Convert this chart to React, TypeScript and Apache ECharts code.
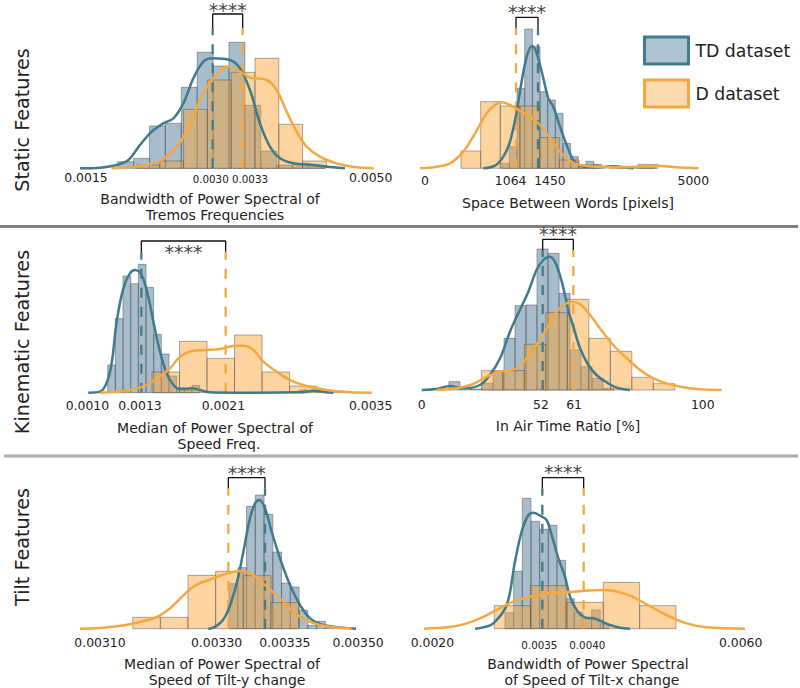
import React, { useEffect, useRef } from 'react';
import * as echarts from 'echarts';

const TD_LINE = '#3f7a8d';
const D_LINE = '#f5a83f';
const TD_FILL = 'rgba(62,109,140,0.45)';
const D_FILL = 'rgba(251,160,44,0.45)';
const BAR_EDGE = 'rgba(70,70,70,0.45)';
const FONT = '"DejaVu Sans", sans-serif';

// --- Bandwidth of Power Spectral of Tremos Frequencies
const p1TdHeights = [20, 30, 127, 135, 243, 348, 307, 378, 189, 52, 10, 15, 5];
const p1DHeights = [10, 22, 177, 265, 288, 330, 132, 22];
const p1TdKdeX = [0.001673, 0.001873, 0.00204, 0.002157, 0.002273, 0.00239, 0.002507, 0.002607, 0.002707, 0.002807, 0.002907, 0.003, 0.003173, 0.003273, 0.003373, 0.003473, 0.003573, 0.003673, 0.003807, 0.004007, 0.004207, 0.004323];
const p1TdKdeY = [0, 2, 10, 25, 70, 110, 135, 150, 195, 270, 320, 330, 325, 300, 235, 135, 65, 30, 15, 10, 3, 0];
const p1DKdeX = [0.00199, 0.002273, 0.002473, 0.00264, 0.002773, 0.002873, 0.003007, 0.003157, 0.003273, 0.003373, 0.00354, 0.00364, 0.00374, 0.00384, 0.00394, 0.004073, 0.00424, 0.0044, 0.00461];
const p1DKdeY = [0, 8, 22, 65, 130, 205, 270, 305, 290, 272, 265, 235, 170, 110, 65, 35, 15, 5, 0];

// --- Space Between Words [pixels]
const p2TdHeights = [15, 65, 240, 418, 365, 230, 205, 165, 75, 35, 10, 21, 12, 0, 8, 4, 0, 0, 8, 8];
const p2DHeights = [52, 200, 187, 187, 92, 25, 10, 0, 3, 12];
const p2TdKdeX = [491, 696, 842, 959, 1076, 1193, 1280, 1351, 1427, 1544, 1631, 1719, 1836, 1953, 2070, 2187, 2304, 2538, 2772, 3005, 3122];
const p2TdKdeY = [0, 8, 35, 80, 170, 290, 350, 367, 345, 270, 210, 185, 125, 70, 25, 8, 4, 3, 6, 2, 0];
const p2DKdeX = [-620, -328, -94, 140, 345, 549, 696, 813, 959, 1134, 1310, 1485, 1660, 1836, 2011, 2187, 2479, 2772, 3122, 3532, 3883, 4263];
const p2DKdeY = [0, 5, 15, 50, 105, 165, 190, 198, 190, 172, 155, 130, 90, 50, 22, 10, 5, 3, 4, 8, 3, 0];

// --- Median of Power Spectral of Speed Freq.
const p3TdHeights = [83, 222, 350, 327, 385, 316, 175, 116, 50, 15, 8, 22, 0, 0, 0, 0, 0, 0, 0, 0, 0, 0, 0, 0, 0, 8];
const p3DHeights = [62, 154, 103, 173, 62, 20, 5];
const p3TdKdeX = [0.000797, 0.000908, 0.001003, 0.001066, 0.001129, 0.001192, 0.00124, 0.001303, 0.001366, 0.001414, 0.001477, 0.00154, 0.001604, 0.001667, 0.001777, 0.001857, 0.001951, 0.002173, 0.002805, 0.002932, 0.003058, 0.003121];
const p3TdKdeY = [0, 3, 63, 213, 313, 358, 368, 353, 288, 213, 123, 58, 23, 11, 13, 8, 1, 0, 1, 6, 1, 0];
const p3DKdeX = [0.000908, 0.001129, 0.001287, 0.001414, 0.001572, 0.001667, 0.001793, 0.00192, 0.002046, 0.002173, 0.002268, 0.002362, 0.002457, 0.002584, 0.00271, 0.002868, 0.003058, 0.003279, 0.003485];
const p3DKdeY = [0, 5, 15, 35, 73, 108, 126, 128, 131, 140, 141, 128, 93, 63, 38, 20, 8, 1, 0];

// --- In Air Time Ratio [%]
const p4TdHeights = [25, 8, 3, 20, 55, 155, 253, 255, 423, 410, 290, 120, 70, 35, 5];
const p4DHeights = [58, 58, 137, 232, 272, 155, 116, 38, 19];
const p4TdKdeX = [16.5, 20.9, 24.8, 28.7, 33.6, 36.5, 39.5, 42.4, 45.3, 47.8, 50.2, 52.2, 54, 55.6, 57.6, 59.5, 61, 63, 65.4, 67.8, 70.8, 73.7, 77.6];
const p4TdKdeY = [0, 3, 12, 5, 15, 45, 95, 175, 240, 295, 360, 390, 400, 385, 325, 240, 190, 125, 75, 45, 23, 7, 0];
const p4DKdeX = [20.9, 26.8, 31.6, 35.6, 39.5, 44.4, 47.3, 50.2, 53.2, 56.1, 58.6, 60.5, 63, 65.9, 68.8, 72.7, 76.7, 80.6, 84.5, 88.4, 93.3, 98.2, 104.5];
const p4DKdeY = [0, 5, 18, 40, 55, 65, 95, 135, 185, 235, 258, 265, 257, 225, 185, 135, 95, 60, 35, 20, 8, 2, 0];

// --- Median of Power Spectral of Speed of Tilt-y change
const p5TdHeights = [135, 183, 367, 401, 343, 230, 137, 125, 55, 10, 22, 5];
const p5DHeights = [34, 34, 160, 172, 159, 78];
const p5TdKdeX = [0.0032727, 0.0032795, 0.0032909, 0.0033, 0.0033114, 0.0033205, 0.0033295, 0.0033364, 0.0033423, 0.00335, 0.0033591, 0.0033705, 0.0033841, 0.0033977, 0.0034114, 0.003425, 0.0034432, 0.0034591, 0.0034741];
const p5TdKdeY = [0, 3, 21, 56, 136, 231, 331, 376, 386, 361, 291, 211, 131, 71, 31, 14, 6, 2, 0];
const p5DKdeX = [0.0030977, 0.003125, 0.0031477, 0.003175, 0.0032023, 0.0032205, 0.0032523, 0.0032795, 0.0032977, 0.0033159, 0.0033341, 0.0033523, 0.003375, 0.0033977, 0.0034205, 0.0034432, 0.0034682];
const p5DKdeY = [0, 2, 7, 18, 35, 61, 126, 151, 165, 173, 161, 126, 81, 36, 14, 4, 0];

// --- Bandwidth of Power Spectral of Speed of Tilt-x change
const p6TdHeights = [48, 172, 391, 322, 298, 310, 205, 90, 50, 30, 56, 15];
const p6DHeights = [69, 129, 79, 139, 69];
const p6TdKdeX = [0.002686, 0.002786, 0.002907, 0.003069, 0.003169, 0.00325, 0.003331, 0.003391, 0.003472, 0.003552, 0.003613, 0.003694, 0.003774, 0.003835, 0.003915, 0.004016, 0.004117, 0.004198, 0.004318, 0.004439, 0.00456];
const p6TdKdeY = [0, 4, 16, 71, 201, 291, 341, 348, 339, 326, 281, 211, 156, 96, 56, 34, 31, 24, 11, 3, 0];
const p6DKdeX = [0.002069, 0.002343, 0.002544, 0.002746, 0.002907, 0.003149, 0.003391, 0.003593, 0.003875, 0.004238, 0.00452, 0.004762, 0.005004, 0.005246, 0.005488, 0.005951];
const p6DKdeY = [0, 4, 13, 31, 51, 81, 98, 106, 111, 116, 103, 73, 41, 16, 4, 0];

// tick labels sit where the original figure put them, not on a regular scale
const p1TickAt = [0.001733, 0.00298, 0.003373, 0.004580];
const p1TickText = ['0.0015', '0.0030', '0.0033', '0.0050'];
const p2TickAt = [-532, 970, 1660, 4175];
const p2TickText = ['0', '1064', '1450', '5000'];
const p3TickAt = [0.000788, 0.001287, 0.002078, 0.003475];
const p3TickText = ['0.0010', '0.0013', '0.0021', '0.0035'];
const p4TickAt = [16.5, 51.5, 61.2, 99];
const p4TickText = ['0', '52', '61', '100'];
const p5TickAt = [0.003125, 0.003284, 0.003377, 0.003477];
const p5TickText = ['0.00310', '0.00330', '0.00335', '0.00350'];
const p6TickAt = [0.00217, 0.003464, 0.004044, 0.005899];
const p6TickText = ['0.0020', '0.0035', '0.0040', '0.0060'];

const panels = [
  {
    left: 52.67, top: 0, width: 350, height: 168.33, min: 0.0014, max: 0.0049, yMax: 505, tickGap: 3,
    tickAt: p1TickAt, tickText: p1TickText, smallTicks: [1, 2], liftTicks: [] as number[],
    td: { start: 0.00205, width: 0.000159, heights: p1TdHeights, kdeX: p1TdKdeX, kdeY: p1TdKdeY, median: 0.003 },
    d: { start: 0.002233, width: 0.000238, heights: p1DHeights, kdeX: p1DKdeX, kdeY: p1DKdeY, median: 0.0033 },
    dashTop: 420, bracketTop: 463, stars: 476,
  },
  {
    left: 398.35, top: 0, width: 342, height: 168.33, min: -1000, max: 5000, yMax: 505, tickGap: 6,
    tickAt: p2TickAt, tickText: p2TickText, smallTicks: [], liftTicks: [],
    td: { start: 813, width: 134.5, heights: p2TdHeights, kdeX: p2TdKdeX, kdeY: p2TdKdeY, median: 1450 },
    d: { start: 99, width: 345, heights: p2DHeights, kdeX: p2DKdeX, kdeY: p2DKdeY, median: 1064 },
    dashTop: 420, bracketTop: 453, stars: 469,
  },
  {
    left: 78.08, top: 225, width: 326.79, height: 167.67, min: 0.0007, max: 0.0038, yMax: 503, tickGap: 7,
    tickAt: p3TickAt, tickText: p3TickText, smallTicks: [], liftTicks: [],
    td: { start: 0.000981, width: 0.0000727, heights: p3TdHeights, kdeX: p3TdKdeX, kdeY: p3TdKdeY, median: 0.0013 },
    d: { start: 0.001401, width: 0.000261, heights: p3DHeights, kdeX: p3DKdeX, kdeY: p3DKdeY, median: 0.0021 },
    dashTop: 423, bracketTop: 455, stars: 422,
  },
  {
    left: 399.57, top: 225, width: 340.73, height: 165, min: 10, max: 110, yMax: 495, tickGap: 8,
    tickAt: p4TickAt, tickText: p4TickText, smallTicks: [], liftTicks: [1, 2],
    td: { start: 24.5, width: 3.23, heights: p4TdHeights, kdeX: p4TdKdeX, kdeY: p4TdKdeY, median: 52 },
    d: { start: 34, width: 6.31, heights: p4DHeights, kdeX: p4DKdeX, kdeY: p4DKdeY, median: 61 },
    dashTop: 420, bracketTop: 452, stars: 467,
  },
  {
    left: 8.33, top: 455, width: 366.67, height: 173.67, min: 0.003, max: 0.0035, yMax: 521, tickGap: 8,
    tickAt: p5TickAt, tickText: p5TickText, smallTicks: [], liftTicks: [],
    td: { start: 0.0033009, width: 0.00001195, heights: p5TdHeights, kdeX: p5TdKdeX, kdeY: p5TdKdeY, median: 0.00335 },
    d: { start: 0.0031696, width: 0.0000377, heights: p5DHeights, kdeX: p5DKdeX, kdeY: p5DKdeY, median: 0.0033 },
    dashTop: 421, bracketTop: 453, stars: 468,
  },
  {
    left: 418.33, top: 455, width: 330.67, height: 173.67, min: 0.002, max: 0.006, yMax: 521, tickGap: 8,
    tickAt: p6TickAt, tickText: p6TickText, smallTicks: [1, 2], liftTicks: [],
    td: { start: 0.003048, width: 0.0001048, heights: p6TdHeights, kdeX: p6TdKdeX, kdeY: p6TdKdeY, median: 0.0035 },
    d: { start: 0.002919, width: 0.0004395, heights: p6DHeights, kdeX: p6DKdeX, kdeY: p6DKdeY, median: 0.004 },
    dashTop: 421, bracketTop: 453, stars: 471,
  },
];

const xTitles = [
  { text: 'Bandwidth of Power Spectral of', x: 210, y: 199 },
  { text: 'Tremos Frequencies', x: 215, y: 215 },
  { text: 'Space Between Words [pixels]', x: 568, y: 203 },
  { text: 'Median of Power Spectral of', x: 215, y: 428 },
  { text: 'Speed Freq.', x: 219, y: 444 },
  { text: 'In Air Time Ratio [%]', x: 568, y: 426 },
  { text: 'Median of Power Spectral of', x: 222, y: 664 },
  { text: 'Speed of Tilt-y change', x: 227, y: 680 },
  { text: 'Bandwidth of Power Spectral', x: 588, y: 664 },
  { text: 'of Speed of Tilt-x change', x: 592, y: 680 },
];

const rowTitles = [
  { text: 'Static Features', y: 120 },
  { text: 'Kinematic Features', y: 342 },
  { text: 'Tilt Features', y: 547 },
];

const histSeries = (name: string, gridIndex: number, fill: string, start: number, width: number, heights: number[]) => ({
  name,
  type: 'custom',
  xAxisIndex: gridIndex,
  yAxisIndex: gridIndex,
  encode: { x: [0, 1], y: 2 },
  itemStyle: { color: fill },
  data: heights.map((h, i) => [start + i * width, start + (i + 1) * width, h]).filter(row => row[2] > 0),
  renderItem: (_params: any, api: any) => {
    const a = api.coord([api.value(0), api.value(2)]);
    const b = api.coord([api.value(1), 0]);
    return {
      type: 'rect',
      shape: { x: a[0], y: a[1], width: b[0] - a[0], height: b[1] - a[1] },
      style: { fill, stroke: BAR_EDGE, lineWidth: 1 },
    };
  },
});

const lineSeries = (gridIndex: number, data: number[][], color: string, width: number, dashed = false) => ({
  type: 'line',
  xAxisIndex: gridIndex,
  yAxisIndex: gridIndex,
  data,
  showSymbol: false,
  silent: true,
  clip: false,
  lineStyle: { color, width, type: dashed ? [10, 9] : 'solid' },
});

const kdeSeries = (gridIndex: number, xs: number[], ys: number[], color: string) => ({
  ...lineSeries(gridIndex, xs.map((x, i) => [x, ys[i]]), color, 2.5),
  smooth: 0.35,
});

const buildOption = () => {
  const series: any[] = [];
  panels.forEach((p, i) => {
    series.push(histSeries('TD dataset', i, TD_FILL, p.td.start, p.td.width, p.td.heights));
    series.push(histSeries('D dataset', i, D_FILL, p.d.start, p.d.width, p.d.heights));
    series.push(lineSeries(i, [[p.td.median, 0], [p.td.median, p.dashTop]], TD_LINE, 2.3, true));
    series.push(lineSeries(i, [[p.d.median, 0], [p.d.median, p.dashTop]], D_LINE, 2.3, true));
    series.push(kdeSeries(i, p.td.kdeX, p.td.kdeY, TD_LINE));
    series.push(kdeSeries(i, p.d.kdeX, p.d.kdeY, D_LINE));
    series.push(lineSeries(i, [
      [p.td.median, p.dashTop],
      [p.td.median, p.bracketTop],
      [p.d.median, p.bracketTop],
      [p.d.median, p.dashTop],
    ], '#111', 1.3));
    series.push({
      type: 'scatter',
      xAxisIndex: i,
      yAxisIndex: i,
      symbolSize: 0,
      silent: true,
      clip: false,
      data: [[(p.td.median + p.d.median) / 2, p.stars]],
      label: {
        show: true,
        position: 'inside',
        formatter: '****',
        fontSize: 19,
        lineHeight: 12,
        fontFamily: FONT,
        color: '#111',
      },
    });
  });

  return {
    animation: false,
    backgroundColor: '#fff',
    grid: panels.map(p => ({ left: p.left, top: p.top, width: p.width, height: p.height })),
    xAxis: panels.map((p, i) => ({
      type: 'value',
      gridIndex: i,
      min: p.min,
      max: p.max,
      splitLine: { show: false },
      axisLine: { show: false },
      axisTick: { show: false },
      axisLabel: {
        customValues: p.tickAt,
        margin: p.tickGap,
        fontSize: 12.4,
        fontFamily: FONT,
        color: '#222',
        hideOverlap: false,
        showMinLabel: true,
        showMaxLabel: true,
        formatter: (value: number) => {
          const idx = p.tickAt.indexOf(value);
          if (p.smallTicks.includes(idx)) return `{s|${p.tickText[idx]}}`;
          if (p.liftTicks.includes(idx)) return `{h|${p.tickText[idx]}}`;
          return p.tickText[idx];
        },
        rich: {
          s: { fontSize: 10.3, fontFamily: FONT, color: '#222', padding: [3, 0, 0, 0] },
          h: { fontSize: 12.4, fontFamily: FONT, color: '#222', padding: [0, 0, 3, 0] },
        },
      },
    })),
    yAxis: panels.map((p, i) => ({
      type: 'value',
      gridIndex: i,
      min: 0,
      max: p.yMax,
      show: false,
    })),
    legend: {
      orient: 'vertical',
      left: 643,
      top: 35.5,
      padding: 0,
      itemWidth: 44,
      itemHeight: 27,
      itemGap: 13,
      selectedMode: false,
      textStyle: { fontSize: 17.3, fontFamily: FONT, color: '#222', padding: [0, 0, 0, 2] },
      data: [
        { name: 'TD dataset', icon: 'rect', itemStyle: { color: 'rgba(62,109,140,0.42)', borderColor: TD_LINE, borderWidth: 3 } },
        { name: 'D dataset', icon: 'rect', itemStyle: { color: 'rgba(251,160,44,0.38)', borderColor: D_LINE, borderWidth: 3 } },
      ],
    },
    graphic: [
      { type: 'rect', shape: { x: 0, y: 225, width: 798, height: 3 }, style: { fill: '#808080' } },
      { type: 'rect', shape: { x: 4, y: 454.5, width: 794, height: 3 }, style: { fill: '#aaaaaa' } },
      ...xTitles.map(t => ({
        type: 'text',
        x: t.x,
        y: t.y,
        style: { text: t.text, fontSize: 14, fontFamily: FONT, fill: '#222', align: 'center', verticalAlign: 'middle' },
      })),
      ...rowTitles.map(t => ({
        type: 'text',
        x: 22,
        y: t.y,
        rotation: Math.PI / 2,
        style: { text: t.text, fontSize: 19.2, fontFamily: FONT, fill: '#222', align: 'center', verticalAlign: 'middle' },
      })),
    ],
    series,
  };
};

const App: React.FC = () => {
  const chartRef = useRef<HTMLDivElement>(null);

  useEffect(() => {
    if (!chartRef.current) return;
    const chart = echarts.init(chartRef.current, undefined, { renderer: 'svg' });
    chart.setOption(buildOption() as any);
    return () => {
      chart.dispose();
    };
  }, []);

  return <div ref={chartRef} style={{ position: 'absolute', left: 0, top: 0, width: 800, height: 688 }} />;
};

export default App;
